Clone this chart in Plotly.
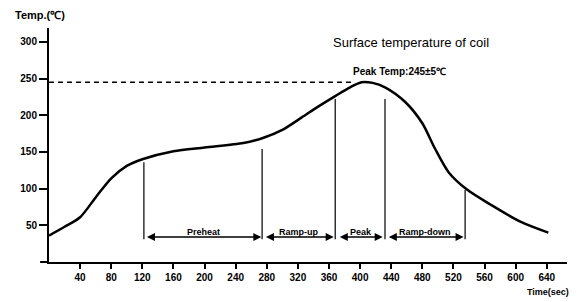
import plotly.graph_objects as go

# ---- data ----
time_s = [0, 20, 40, 60, 80, 100, 120, 160, 200, 250, 275, 300, 325, 345, 368, 387, 402, 416, 432, 458, 480, 496, 514, 537, 568, 606, 642]
temp_c = [36, 48, 61, 88, 114, 131, 140, 151, 156, 162, 169, 180, 197, 211, 226, 238, 245, 244, 238, 218, 189, 155, 122, 99, 78, 55, 40]

x_ticks = [40, 80, 120, 160, 200, 240, 280, 320, 360, 400, 440, 480, 520, 560, 600, 640]
y_ticks = [50, 100, 150, 200, 250, 300]

peak_temp = 245
dash_end_time = 392

divider_times = [122, 274, 368, 432, 535]
divider_tops = [136, 154, 222, 222, 98]
divider_bottom = 31

phase_names = ["Preheat", "Ramp-up", "Peak", "Ramp-down"]
phase_starts = [124, 277, 372, 435]
phase_ends = [273, 366, 429, 533]
arrow_level = 34
label_level = 41

FONT = "Liberation Sans, Arial, sans-serif"

# ---- layout geometry (figure sits 8px inside the page due to body margin) ----
OFF = 8
L, T, PW, PH = 33, 20, 526, 234
W, H = 578, 302
R = W - L - PW
B = H - T - PH


def px_to_paper(wx, wy):
    return (wx - OFF - L) / PW, 1 - (wy - OFF - T) / PH


fig = go.Figure()
fig.add_trace(go.Scatter(x=time_s, y=temp_c, mode="lines",
                         line=dict(color="black", width=2.5, shape="spline", smoothing=0.8),
                         hoverinfo="skip", showlegend=False))

shapes = []
shapes.append(dict(type="line", xref="x", yref="y", x0=0, x1=dash_end_time, y0=peak_temp, y1=peak_temp,
                   line=dict(color="black", width=1.5, dash="5px,4px")))
for t, top in zip(divider_times, divider_tops):
    shapes.append(dict(type="line", xref="x", yref="y", x0=t, x1=t, y0=divider_bottom, y1=top,
                       line=dict(color="black", width=1.2)))
# x-axis extends slightly left of the y-axis
shapes.append(dict(type="line", xref="paper", yref="paper", x0=-9 / PW, x1=0, y0=0, y1=0,
                   line=dict(color="black", width=2)))

annotations = []
for name, s, e in zip(phase_names, phase_starts, phase_ends):
    annotations.append(dict(x=e, y=arrow_level, ax=s, ay=arrow_level, xref="x", yref="y",
                            axref="x", ayref="y", text="", showarrow=True, arrowside="end+start",
                            arrowhead=2, arrowsize=1, arrowwidth=1.6, arrowcolor="black",
                            standoff=0, startstandoff=0))
    annotations.append(dict(x=(s + e) / 2, y=label_level, xref="x", yref="y", text=name, showarrow=False,
                            xanchor="center", yanchor="middle",
                            font=dict(family=FONT, size=9, color="black", weight="bold")))


def text_at(wx, wy, text, size, bold):
    x, y = px_to_paper(wx, wy)
    f = dict(family=FONT, size=size, color="black")
    if bold:
        f["weight"] = "bold"
    return dict(x=x, y=y, xref="paper", yref="paper", text=text, showarrow=False,
                xanchor="center", yanchor="middle", font=f)


annotations.append(text_at(409, 42, "Surface temperature of coil", 13, False))
annotations.append(text_at(397, 71, "Peak Temp:245±5℃", 10, True))
annotations.append(text_at(32, 15, "Temp.(℃)", 11, True))
annotations.append(text_at(548, 292, "Time(sec)", 9, True))

fig.update_layout(
    width=W, height=H,
    margin=dict(l=L, r=R, t=T, b=B, pad=0),
    paper_bgcolor="white", plot_bgcolor="white",
    shapes=shapes,
    annotations=annotations,
    showlegend=False,
    xaxis=dict(range=[0, 666], tickvals=x_ticks, ticktext=[str(v) for v in x_ticks],
               showgrid=False, zeroline=False, showline=True, linecolor="black", linewidth=2,
               ticks="outside", ticklen=5, tickwidth=2, tickcolor="black",
               tickfont=dict(family=FONT, size=10, color="black", weight="bold")),
    yaxis=dict(range=[0, 318.8], tickvals=y_ticks, ticktext=[str(v) for v in y_ticks],
               showgrid=False, zeroline=False, showline=True, linecolor="black", linewidth=2,
               ticks="outside", ticklen=8, tickwidth=2, tickcolor="black",
               tickfont=dict(family=FONT, size=10, color="black", weight="bold")),
)

fig.write_html("out.html")
